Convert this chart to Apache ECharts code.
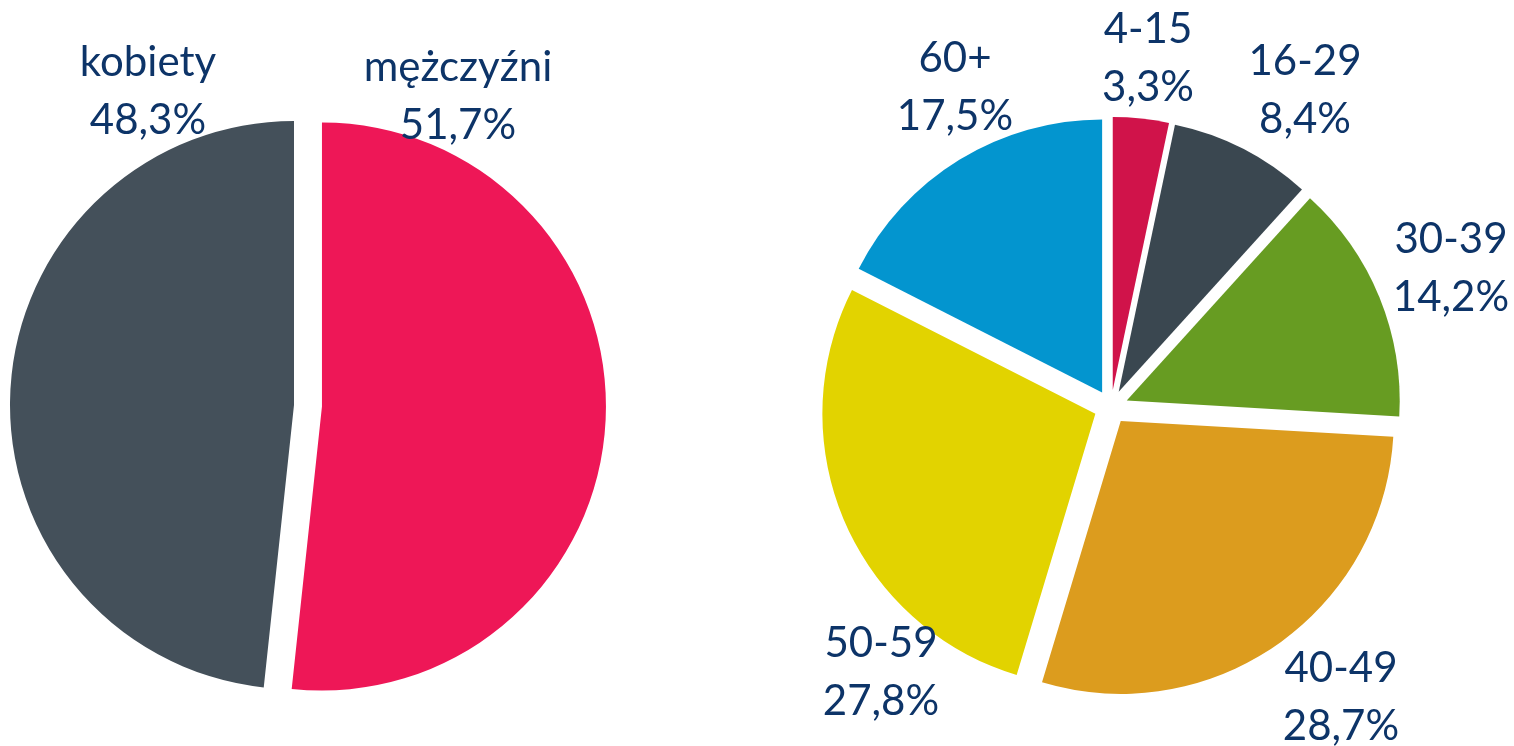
<!DOCTYPE html>
<html>
<head>
<meta charset="utf-8">
<style>
  html, body { margin: 0; padding: 0; background: #fff; }
  #chart { width: 1514px; height: 746px; }
</style>
<script src="https://cdn.jsdelivr.net/npm/echarts@6/dist/echarts.min.js"></script>
</head>
<body>
<div id="chart"></div>
<script>
const genderNames = ["mężczyźni", "kobiety"];
const genderValues = [51.7, 48.3];
const genderColors = ["#ee1757", "#44505a"];

const ageNames = ["4-15", "16-29", "30-39", "40-49", "50-59", "60+"];
const ageValues = [3.3, 8.4, 14.2, 28.7, 27.8, 17.5];
const ageColors = ["#d0134a", "#3a4750", "#679c22", "#dc9c1e", "#e2d300", "#0395cf"];

// label centres (px), tuned by eye against the reference
const genderLabelPos = [[458, 96], [148, 91]];
const ageLabelPos = [[1148, 58], [1305, 90], [1451, 268], [1341, 697], [881, 672], [955, 87]];

const TEXT_COLOR = "#0d3468";

function fmtPct(v) {
  return v.toFixed(1).replace(".", ",") + "%";
}

// exploded sectors, no labels (labels on a separate overlay so selection offset does not move them)
function sectorSeries(names, values, colors, center, r, offset, selectedFn) {
  return {
    type: "pie",
    center,
    radius: [0, r],
    startAngle: 90,
    clockwise: true,
    selectedMode: "multiple",
    selectedOffset: offset,
    emphasis: { disabled: true },
    label: { show: false },
    labelLine: { show: false },
    data: names.map((name, i) => ({
      name,
      value: values[i],
      selected: selectedFn(i),
      itemStyle: { color: colors[i] },
    })),
  };
}

function labelSeries(names, values, center, r, positions) {
  return {
    type: "pie",
    center,
    radius: [0, r],
    startAngle: 90,
    clockwise: true,
    silent: true,
    selectedMode: false,
    avoidLabelOverlap: false,
    emphasis: { disabled: true },
    itemStyle: { color: "rgba(0,0,0,0)" },
    label: {
      show: true,
      position: "outside",
      formatter: (p) => `${p.name}\n${fmtPct(p.value)}`,
      color: TEXT_COLOR,
      fontFamily: "Lato",
      fontSize: 42,
      lineHeight: 58,
      align: "center",
    },
    labelLine: { show: false },
    labelLayout: (p) => {
      const pos = positions[p.dataIndex];
      return { x: pos[0], y: pos[1], align: "center", verticalAlign: "middle" };
    },
    data: names.map((name, i) => ({ name, value: values[i] })),
  };
}

const chart = echarts.init(document.getElementById("chart"), null, { renderer: "canvas" });

chart.setOption({
  animation: false,
  series: [
    sectorSeries(genderNames, genderValues, genderColors, [294, 405], 284, 28, (i) => i === 0),
    sectorSeries(ageNames, ageValues, ageColors, [1111, 407], 273, 17, () => true),
    labelSeries(genderNames, genderValues, [294, 405], 284, genderLabelPos),
    labelSeries(ageNames, ageValues, [1111, 407], 273, ageLabelPos),
  ],
});
</script>
</body>
</html>
